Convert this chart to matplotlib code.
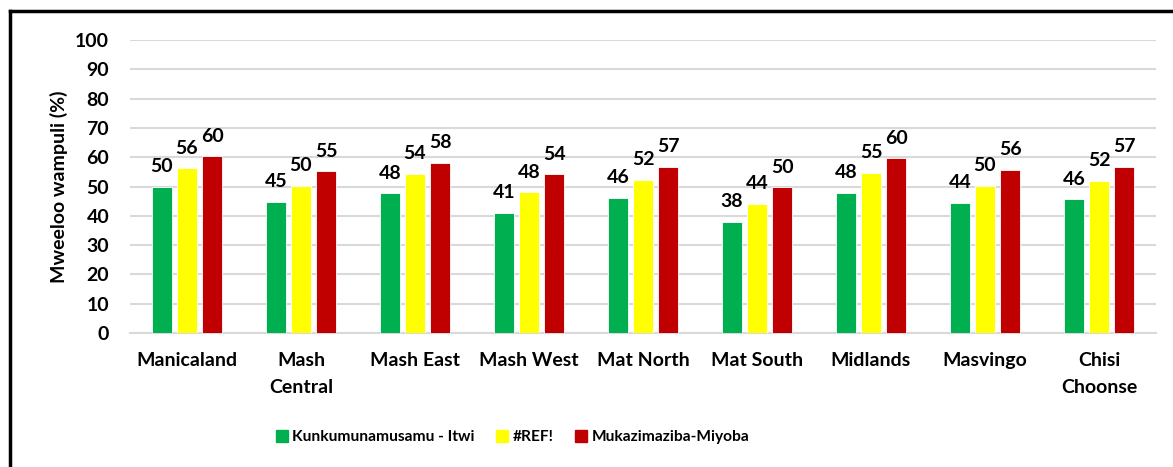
import numpy as np
import matplotlib.pyplot as plt
from matplotlib.lines import Line2D

plt.rcParams['font.family'] = ['Lato', 'DejaVu Sans']
plt.rcParams['font.weight'] = 'bold'

# dati
provinces = ['Manicaland', 'Mash\nCentral', 'Mash East', 'Mash West', 'Mat North',
             'Mat South', 'Midlands', 'Masvingo', 'Chisi\nChoonse']
green_vals = [49.9, 44.7, 47.7, 41.1, 46.1, 38.0, 47.8, 44.3, 45.6]
yellow_vals = [56.2, 50.3, 54.3, 48.0, 52.3, 44.1, 54.6, 50.2, 51.9]
red_vals = [60.3, 55.2, 58.1, 54.1, 56.8, 49.7, 59.6, 55.6, 56.7]
series_names = ['Kunkumunamusamu - Itwi', '#REF!', 'Mukazimaziba-Miyoba']
colors = ['#00B050', '#FFFF00', '#C00000']

fig = plt.figure(figsize=(11.73, 4.67), dpi=100)
ax = fig.add_axes([130/1173, 1-333/467, (1156-130)/1173, (333-40)/467])

x = np.arange(len(provinces))
w = 0.175
pitch = 0.22
for i, (vals, c) in enumerate(zip([green_vals, yellow_vals, red_vals], colors)):
    pos = x + (i-1)*pitch
    ax.bar(pos, vals, width=w, color=c, edgecolor='white', linewidth=0.6, zorder=3)
    for px, v in zip(pos, vals):
        ax.text(px, v+4.0, '%d' % round(v), ha='center', va='bottom',
                fontsize=14, fontweight='bold', zorder=4)

ax.set_xlim(-0.5, len(provinces)-0.5)
ax.set_ylim(0, 100)
ax.set_yticks(range(0, 101, 10))
ax.set_xticks(x)
ax.set_xticklabels(provinces, fontsize=14, fontweight='bold', linespacing=1.65)
ax.tick_params(axis='y', labelsize=14, length=0, pad=15)
ax.tick_params(axis='x', length=0, pad=14)
ax.grid(axis='y', color='#d9d9d9', linewidth=1.5, zorder=0)
for s in ['top', 'right', 'left']:
    ax.spines[s].set_visible(False)
ax.spines['bottom'].set_color('#d9d9d9')
ax.spines['bottom'].set_linewidth(1.5)
ax.set_ylabel('Mweeloo wampuli (%)', fontsize=14, fontweight='bold', labelpad=5)

handles = [Line2D([], [], marker='s', linestyle='none', markersize=8,
                  markerfacecolor=c, markeredgecolor=c) for c in colors]
fig.legend(handles, series_names, loc='center', bbox_to_anchor=(513/1173, 1-437/467),
           ncol=3, frameon=False, handlelength=0.6, handletextpad=0.35, columnspacing=1.5,
           prop={'weight': 'bold', 'size': 11.2})

# bordo del grafico
fig.add_artist(Line2D([9.5/1173, 9.5/1173], [0, 1-10.5/467], color='black', linewidth=2.5))
fig.add_artist(Line2D([9.5/1173, 1], [1-10.5/467, 1-10.5/467], color='black', linewidth=2.5))

fig.savefig('out.png', dpi=100)
